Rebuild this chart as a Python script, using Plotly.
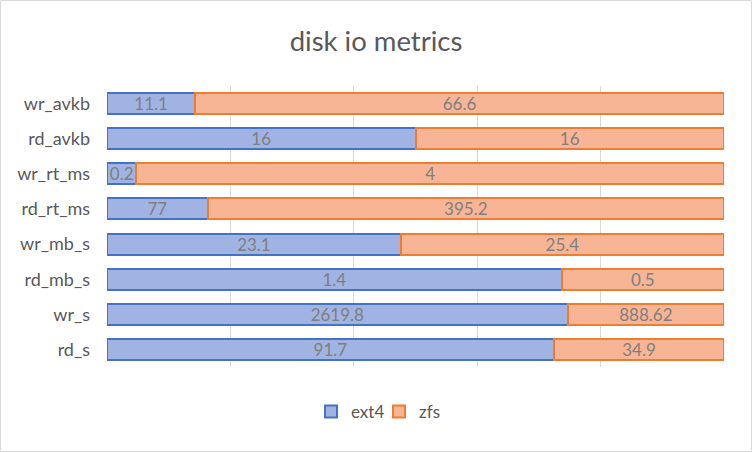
import plotly.graph_objects as go

categories = ["wr_avkb", "rd_avkb", "wr_rt_ms", "rd_rt_ms", "wr_mb_s", "rd_mb_s", "wr_s", "rd_s"]
ext4 = [11.1, 16, 0.2, 77, 23.1, 1.4, 2619.8, 91.7]
zfs = [66.6, 16, 4, 395.2, 25.4, 0.5, 888.62, 34.9]
ext4_labels = ["11.1", "16", "0.2", "77", "23.1", "1.4", "2619.8", "91.7"]
zfs_labels = ["66.6", "16", "4", "395.2", "25.4", "0.5", "888.62", "34.9"]

W, H = 752, 452
L, R, T, B = 107, 28, 86, 85
FONT = "Lato, Carlito, Calibri, sans-serif"

fig = go.Figure()
for name, vals, labels, fill, edge in [
    ("ext4", ext4, ext4_labels, "#a0b3e2", "#4472c4"),
    ("zfs", zfs, zfs_labels, "#f7b596", "#ed7d31"),
]:
    fig.add_trace(go.Bar(
        y=categories, x=vals, name=name, orientation="h",
        text=labels, textposition="inside", insidetextanchor="middle",
        textangle=0, constraintext="none",
        textfont=dict(color="#7f7f7f", size=17, family=FONT),
        marker=dict(color=fill, line=dict(color=edge, width=2)),
        hoverinfo="x+y",
    ))

pw, ph = W - L - R, H - T - B
fig.update_layout(
    width=W, height=H,
    margin=dict(l=L, r=R, t=T, b=B, autoexpand=False),
    barmode="stack", barnorm="percent", bargap=0.4,
    paper_bgcolor="white", plot_bgcolor="white",
    font=dict(family=FONT, color="#595959", size=18),
    uniformtext=dict(minsize=17, mode="show"),
    title=dict(text="disk io metrics", x=0.5, xanchor="center", y=1 - 41 / H, yanchor="middle",
               font=dict(size=27.5, color="#595959", family=FONT)),
    legend=dict(orientation="h", x=(311 - L) / pw, xanchor="left", y=-(412 - (H - B)) / ph, yanchor="middle",
                font=dict(size=17, color="#595959", family=FONT), traceorder="normal",
                itemwidth=30, entrywidth=23, entrywidthmode="pixels"),
    xaxis=dict(range=[0, 100], dtick=20, showticklabels=False, showgrid=True,
               gridcolor="#d9d9d9", gridwidth=1, zeroline=False, showline=False, fixedrange=True,
               automargin=False),
    yaxis=dict(autorange="reversed", showgrid=False, showline=False, ticks="",
               ticklabelstandoff=16, automargin=False, tickfont=dict(size=18, color="#595959")),
)

# outer chart border
fig.add_shape(type="rect", xref="paper", yref="paper",
              x0=(-L + 0.5) / pw, x1=1 + (R - 0.5) / pw,
              y0=(-B + 0.5) / ph, y1=1 + (T - 0.5) / ph,
              line=dict(color="#d9d9d9", width=1), fillcolor="rgba(0,0,0,0)", layer="below")

fig.write_html("out.html", config={"displayModeBar": False},
               post_script="document.body.style.margin='0';document.body.style.padding='0';")
